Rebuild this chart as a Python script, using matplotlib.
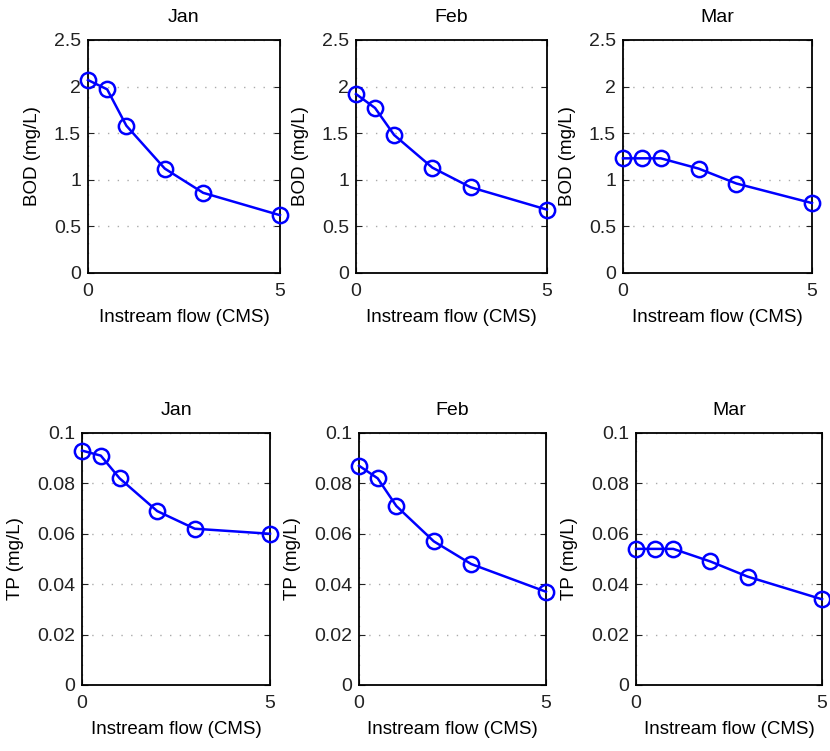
import matplotlib
matplotlib.use("Agg")
import matplotlib.pyplot as plt

# Instream flow values (CMS)
flow = [0, 0.5, 1, 2, 3, 5]
months = ["Jan", "Feb", "Mar"]

# BOD (mg/L) per month
bodJan = [2.07, 1.97, 1.58, 1.12, 0.86, 0.62]
bodFeb = [1.92, 1.77, 1.48, 1.13, 0.92, 0.68]
bodMar = [1.23, 1.23, 1.23, 1.12, 0.96, 0.75]

# TP (mg/L) per month
tpJan = [0.093, 0.091, 0.082, 0.069, 0.062, 0.060]
tpFeb = [0.087, 0.082, 0.071, 0.057, 0.048, 0.037]
tpMar = [0.054, 0.054, 0.054, 0.049, 0.043, 0.034]

bodTicks = [0, 0.5, 1, 1.5, 2, 2.5]
bodTickLabels = ["0", "0.5", "1", "1.5", "2", "2.5"]
tpTicks = [0, 0.02, 0.04, 0.06, 0.08, 0.1]
tpTickLabels = ["0", "0.02", "0.04", "0.06", "0.08", "0.1"]

plt.rcParams['font.family'] = ['Liberation Sans', 'DejaVu Sans']

fig = plt.figure(figsize=(8.3, 7.51), dpi=100)

# axes boxes [left, bottom, width, height] in figure fractions
topBoxes = [[0.106, 0.6365, 0.2313, 0.3103],
            [0.4289, 0.6365, 0.230, 0.3103],
            [0.7506, 0.6365, 0.2277, 0.3103]]
bottomBoxes = [[0.0988, 0.0879, 0.2265, 0.3356],
               [0.4325, 0.0879, 0.2253, 0.3356],
               [0.7663, 0.0879, 0.2241, 0.3356]]

rows = [
    (topBoxes, [bodJan, bodFeb, bodMar], "BOD (mg/L)", (0, 2.5), bodTicks, bodTickLabels),
    (bottomBoxes, [tpJan, tpFeb, tpMar], "TP (mg/L)", (0, 0.1), tpTicks, tpTickLabels),
]

for boxes, series, ylabel, ylim, yticks, yticklabels in rows:
    for box, values, month in zip(boxes, series, months):
        ax = fig.add_axes(box)
        ax.plot(flow, values, color='#0000ff', linewidth=1.8, marker='o',
                markersize=11, markerfacecolor='none', markeredgewidth=1.8,
                clip_on=False, zorder=3)
        ax.set_xlim(0, 5)
        ax.set_ylim(*ylim)
        ax.set_xticks([0, 5])
        ax.set_xticklabels(["0", "5"])
        ax.set_yticks(yticks)
        ax.set_yticklabels(yticklabels)
        ax.grid(True, linestyle=(0, (1, 6)), color='#aaaaaa', linewidth=1.0)
        ax.tick_params(direction='in', top=True, right=True, labelsize=14,
                       length=4, colors='#222222')
        ax.tick_params(axis='x', pad=7)
        ax.tick_params(axis='y', pad=5)
        for spine in ax.spines.values():
            spine.set_linewidth(1.3)
        ax.set_title(month, fontsize=14, pad=13)
        ax.set_xlabel("Instream flow (CMS)", fontsize=13.5, labelpad=7)
        ax.set_ylabel(ylabel, fontsize=13.5, labelpad=9)

fig.savefig("out.png", dpi=100, facecolor='white')
